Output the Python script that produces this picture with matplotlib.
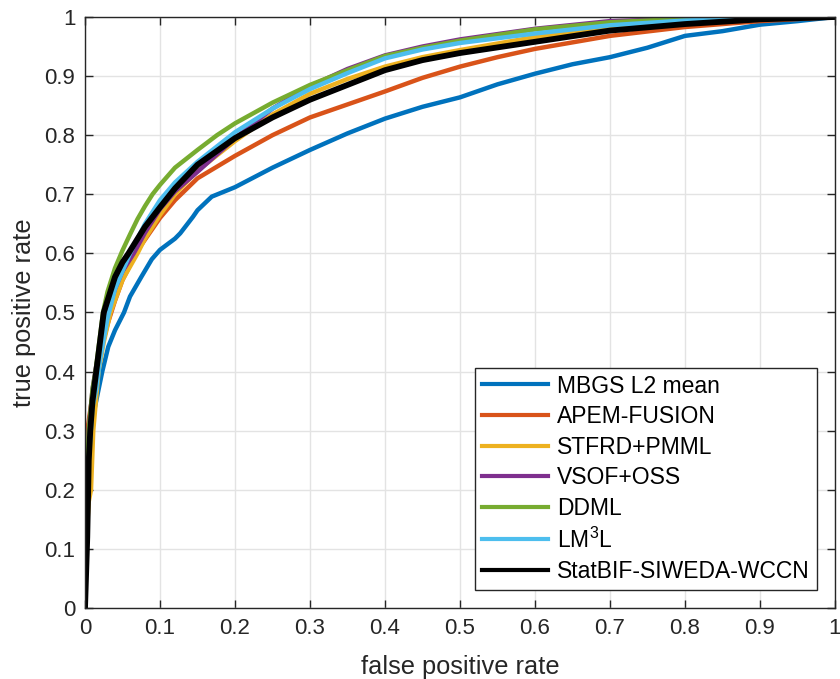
import matplotlib
matplotlib.use('Agg')
import matplotlib.pyplot as plt

plt.rcParams['font.family'] = ['Liberation Sans', 'DejaVu Sans']
plt.rcParams['mathtext.default'] = 'regular'

# ROC curves (false positive rate, true positive rate)
mbgs_fpr = [0, 0.002, 0.005, 0.01, 0.016, 0.023, 0.031, 0.04, 0.052, 0.06, 0.075, 0.089, 0.1, 0.12,
            0.127, 0.144, 0.15, 0.169, 0.2, 0.25, 0.3, 0.35, 0.4, 0.45, 0.5, 0.55, 0.6, 0.65, 0.7,
            0.75, 0.8, 0.85, 0.9, 0.95, 1.0]
mbgs_tpr = [0, 0.12, 0.25, 0.32, 0.357, 0.40, 0.442, 0.47, 0.50, 0.527, 0.56, 0.59, 0.606, 0.625,
            0.634, 0.662, 0.673, 0.696, 0.712, 0.745, 0.775, 0.803, 0.828, 0.848, 0.864, 0.886, 0.904,
            0.92, 0.932, 0.948, 0.968, 0.976, 0.987, 0.993, 1.0]

apem_fpr = [0, 0.001, 0.003, 0.01, 0.02, 0.03, 0.04, 0.05, 0.07, 0.1, 0.12, 0.15, 0.2, 0.25, 0.3,
            0.35, 0.4, 0.45, 0.5, 0.55, 0.6, 0.7, 0.8, 0.9, 1.0]
apem_tpr = [0, 0.2, 0.3, 0.36, 0.43, 0.48, 0.52, 0.555, 0.605, 0.66, 0.69, 0.727, 0.765, 0.80, 0.83,
            0.852, 0.874, 0.897, 0.916, 0.932, 0.946, 0.968, 0.983, 0.993, 1.0]

stfrd_fpr = [0, 0.002, 0.005, 0.008, 0.011, 0.018, 0.025, 0.034, 0.05, 0.07, 0.08, 0.1, 0.12, 0.15,
             0.2, 0.25, 0.3, 0.35, 0.4, 0.45, 0.5, 0.6, 0.7, 0.8, 0.9, 1.0]
stfrd_tpr = [0, 0.12, 0.18, 0.2, 0.3, 0.4, 0.45, 0.5, 0.555, 0.6, 0.625, 0.665, 0.70, 0.74,
             0.79, 0.835, 0.87, 0.895, 0.916, 0.932, 0.944, 0.966, 0.982, 0.992, 0.997, 1.0]

vsof_fpr = [0, 0.002, 0.005, 0.01, 0.015, 0.02, 0.03, 0.04, 0.05, 0.065, 0.08, 0.1, 0.12, 0.15,
            0.2, 0.25, 0.3, 0.35, 0.4, 0.45, 0.5, 0.6, 0.7, 0.8, 0.9, 1.0]
vsof_tpr = [0, 0.2, 0.3, 0.37, 0.41, 0.44, 0.50, 0.54, 0.57, 0.60, 0.635, 0.675, 0.705, 0.738,
            0.795, 0.845, 0.883, 0.912, 0.935, 0.95, 0.962, 0.98, 0.993, 0.997, 1.0, 1.0]

ddml_fpr = [0, 0.002, 0.005, 0.01, 0.014, 0.02, 0.024, 0.03, 0.04, 0.05, 0.06, 0.07, 0.08, 0.09,
            0.1, 0.12, 0.15, 0.176, 0.2, 0.25, 0.3, 0.35, 0.4, 0.45, 0.5, 0.6, 0.7, 0.8, 0.9, 1.0]
ddml_tpr = [0, 0.2, 0.3, 0.37, 0.40, 0.46, 0.50, 0.535, 0.575, 0.605, 0.632, 0.658, 0.68, 0.70,
            0.716, 0.745, 0.775, 0.80, 0.82, 0.855, 0.885, 0.91, 0.934, 0.948, 0.96, 0.979, 0.991,
            0.997, 0.999, 1.0]

lm3l_fpr = [0, 0.002, 0.005, 0.01, 0.015, 0.02, 0.03, 0.04, 0.05, 0.06, 0.08, 0.1, 0.12, 0.15,
            0.2, 0.25, 0.3, 0.35, 0.4, 0.45, 0.5, 0.6, 0.7, 0.8, 0.9, 1.0]
lm3l_tpr = [0, 0.12, 0.25, 0.34, 0.37, 0.42, 0.49, 0.54, 0.57, 0.60, 0.65, 0.69, 0.72, 0.755,
            0.805, 0.845, 0.878, 0.905, 0.93, 0.945, 0.956, 0.972, 0.986, 0.994, 0.998, 1.0]

statbif_fpr = [0, 0.003, 0.005, 0.007, 0.01, 0.014, 0.02, 0.025, 0.03, 0.04, 0.05, 0.058, 0.08,
               0.1, 0.12, 0.15, 0.2, 0.25, 0.3, 0.35, 0.4, 0.45, 0.5, 0.6, 0.7, 0.8, 0.9, 1.0]
statbif_tpr = [0, 0.12, 0.25, 0.3, 0.35, 0.39, 0.45, 0.50, 0.52, 0.56, 0.585, 0.60, 0.645,
               0.678, 0.71, 0.75, 0.795, 0.83, 0.86, 0.885, 0.91, 0.927, 0.939, 0.958, 0.977, 0.988,
               0.996, 1.0]

labels = ['MBGS L2 mean', 'APEM-FUSION', 'STFRD+PMML', 'VSOF+OSS', 'DDML',
          'LM$^{3}$L', 'StatBIF-SIWEDA-WCCN']
colors = ['#0072BD', '#D95319', '#EDB120', '#7E2F8E', '#77AC30', '#4DBEEE', 'black']
curves = [(mbgs_fpr, mbgs_tpr), (apem_fpr, apem_tpr), (stfrd_fpr, stfrd_tpr),
          (vsof_fpr, vsof_tpr), (ddml_fpr, ddml_tpr), (lm3l_fpr, lm3l_tpr),
          (statbif_fpr, statbif_tpr)]

ticks = [0, 0.1, 0.2, 0.3, 0.4, 0.5, 0.6, 0.7, 0.8, 0.9, 1]
tick_labels = ['0', '0.1', '0.2', '0.3', '0.4', '0.5', '0.6', '0.7', '0.8', '0.9', '1']

fig = plt.figure(figsize=(8.4, 6.79), dpi=100)
ax = fig.add_axes([0.1012, 0.1046, 0.8928, 0.8704])

for (x, y), c, lab in zip(curves, colors, labels):
    lw = 4.2 if c == 'black' else 3.2
    ax.plot(x, y, color=c, lw=lw, label=lab)

ax.set_xlim(0, 1)
ax.set_ylim(0, 1)
ax.set_xticks(ticks)
ax.set_xticklabels(tick_labels)
ax.set_yticks(ticks)
ax.set_yticklabels(tick_labels)
ax.grid(True, color='#E3E3E3', lw=1)
ax.set_axisbelow(True)
ax.tick_params(direction='in', length=6, width=1, top=True, right=True,
               labelsize=16, colors='#262626', pad=7)
for s in ax.spines.values():
    s.set_color('#262626')
    s.set_linewidth(1)

ax.set_xlabel('false positive rate', fontsize=18.3, color='#262626', labelpad=12)
ax.set_ylabel('true positive rate', fontsize=18.3, color='#262626', labelpad=6)

leg = ax.legend(loc='lower right', bbox_to_anchor=(0.976, 0.0305), borderaxespad=0,
                fontsize=16.5, handlelength=2.9, fancybox=False, framealpha=1,
                edgecolor='#262626', labelspacing=0.33, borderpad=0.3, handletextpad=0.4)
leg.get_frame().set_linewidth(1)
for line in leg.get_lines():
    line.set_linewidth(3)

fig.savefig('out.png', dpi=100)
